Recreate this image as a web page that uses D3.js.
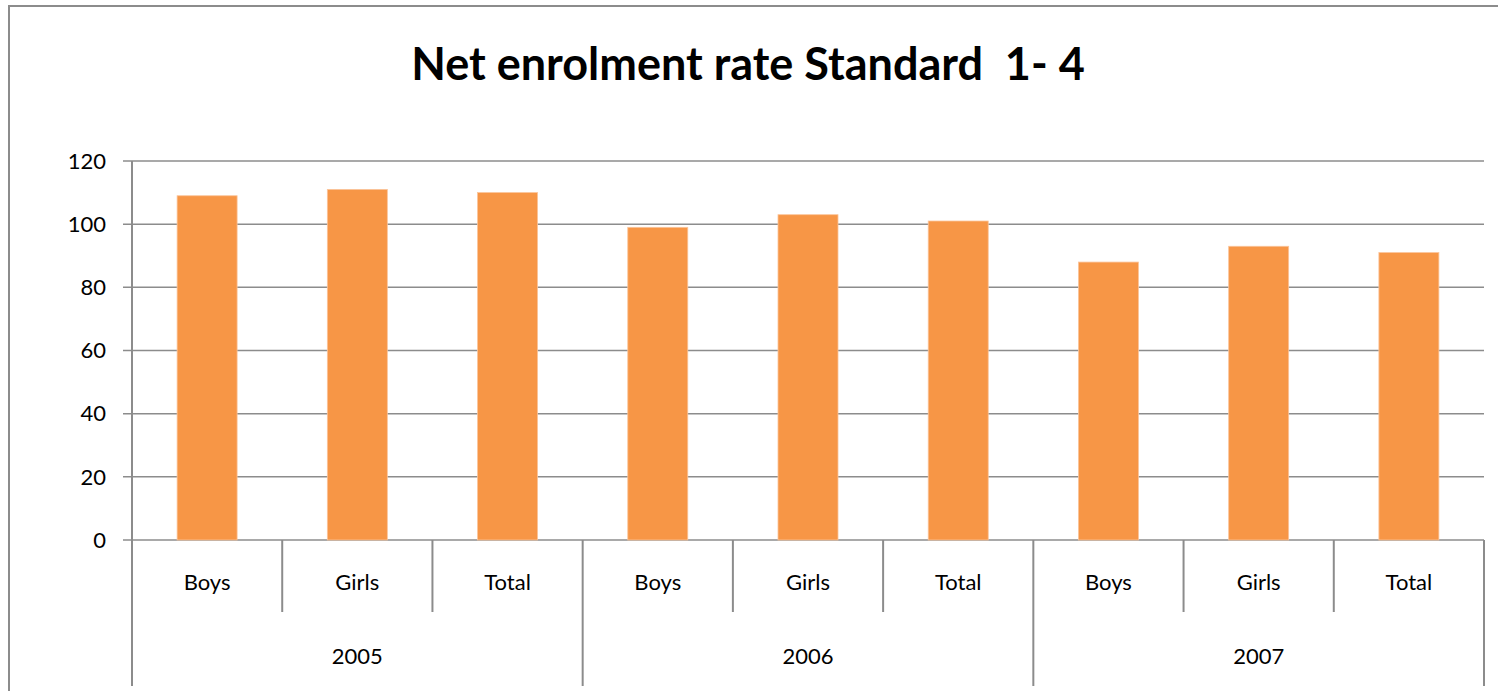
<!DOCTYPE html>
<html>
<head>
<meta charset="utf-8">
<script src="https://cdn.jsdelivr.net/npm/d3@7"></script>
<style>
  body { margin: 0; background: #fff; }
  svg { display: block; font-family: Lato, "Open Sans", sans-serif; }
</style>
</head>
<body>
<script>
// chart data
const years = ["2005", "2006", "2007"];
const groups = ["Boys", "Girls", "Total"];
const values = [109, 111, 110, 99, 103, 101, 88, 93, 91];
const yTicks = [0, 20, 40, 60, 80, 100, 120];

const width = 1498, height = 691;
const plotLeft = 132, plotRight = 1484, plotTop = 161, plotBottom = 540;
const catBottom = 612, yearBottom = 686;

const rows = [];
years.forEach((yr, i) => groups.forEach((g, j) => {
    rows.push({year: yr, group: g, key: yr + "-" + g, value: values[i * groups.length + j]});
}));

const svg = d3.select("body").append("svg")
    .attr("width", width)
    .attr("height", height);

// outer frame
svg.append("rect")
    .attr("x", 9).attr("y", 6)
    .attr("width", width + 10).attr("height", height + 10)
    .attr("fill", "none").attr("stroke", "#8c8c8c").attr("stroke-width", 2);

svg.append("text")
    .attr("x", 748).attr("y", 80)
    .attr("text-anchor", "middle")
    .style("font-size", "45px").style("font-weight", "bold")
    .style("white-space", "pre")
    .text("Net enrolment rate Standard  1- 4");

const x = d3.scaleBand().domain(rows.map(d => d.key)).range([plotLeft, plotRight]).paddingInner(0).paddingOuter(0);
const y = d3.scaleLinear().domain([0, 120]).range([plotBottom, plotTop]);

// gridlines
svg.append("g").selectAll("line").data(yTicks).join("line")
    .attr("x1", plotLeft - 9).attr("x2", plotRight)
    .attr("y1", d => y(d)).attr("y2", d => y(d))
    .attr("stroke", "#8c8c8c").attr("stroke-width", 1.5);

// y axis labels
svg.append("g").selectAll("text").data(yTicks).join("text")
    .attr("x", 106).attr("y", d => y(d))
    .attr("dy", "0.35em")
    .attr("text-anchor", "end")
    .style("font-size", "22px")
    .text(d => d);

// y axis line
svg.append("line")
    .attr("x1", plotLeft).attr("x2", plotLeft)
    .attr("y1", plotTop).attr("y2", yearBottom)
    .attr("stroke", "#8c8c8c").attr("stroke-width", 2);

// bars
const bw = 60;
svg.append("g").selectAll("rect").data(rows).join("rect")
    .attr("x", d => x(d.key) + x.bandwidth() / 2 - bw / 2)
    .attr("y", d => y(d.value))
    .attr("width", bw)
    .attr("height", d => y(0) - y(d.value))
    .attr("fill", "#f79646")
    .attr("stroke", "#fbc49a").attr("stroke-width", 0.8);

// category separators
const seps = rows.map((d, i) => i).slice(1);
svg.append("g").selectAll("line").data(seps).join("line")
    .attr("x1", i => x(rows[i].key)).attr("x2", i => x(rows[i].key))
    .attr("y1", plotBottom)
    .attr("y2", i => i % groups.length === 0 ? yearBottom : catBottom)
    .attr("stroke", "#8c8c8c").attr("stroke-width", 2);

svg.append("line")
    .attr("x1", plotRight).attr("x2", plotRight)
    .attr("y1", plotBottom).attr("y2", yearBottom)
    .attr("stroke", "#8c8c8c").attr("stroke-width", 2);

// category labels
svg.append("g").selectAll("text").data(rows).join("text")
    .attr("x", d => x(d.key) + x.bandwidth() / 2)
    .attr("y", 582).attr("dy", "0.35em")
    .attr("text-anchor", "middle")
    .style("font-size", "22px")
    .text(d => d.group);

// year labels
svg.append("g").selectAll("text").data(years).join("text")
    .attr("x", (yr, i) => x(rows[i * groups.length].key) + x.bandwidth() * groups.length / 2)
    .attr("y", 656).attr("dy", "0.35em")
    .attr("text-anchor", "middle")
    .style("font-size", "22px")
    .text(d => d);
</script>
</body>
</html>
